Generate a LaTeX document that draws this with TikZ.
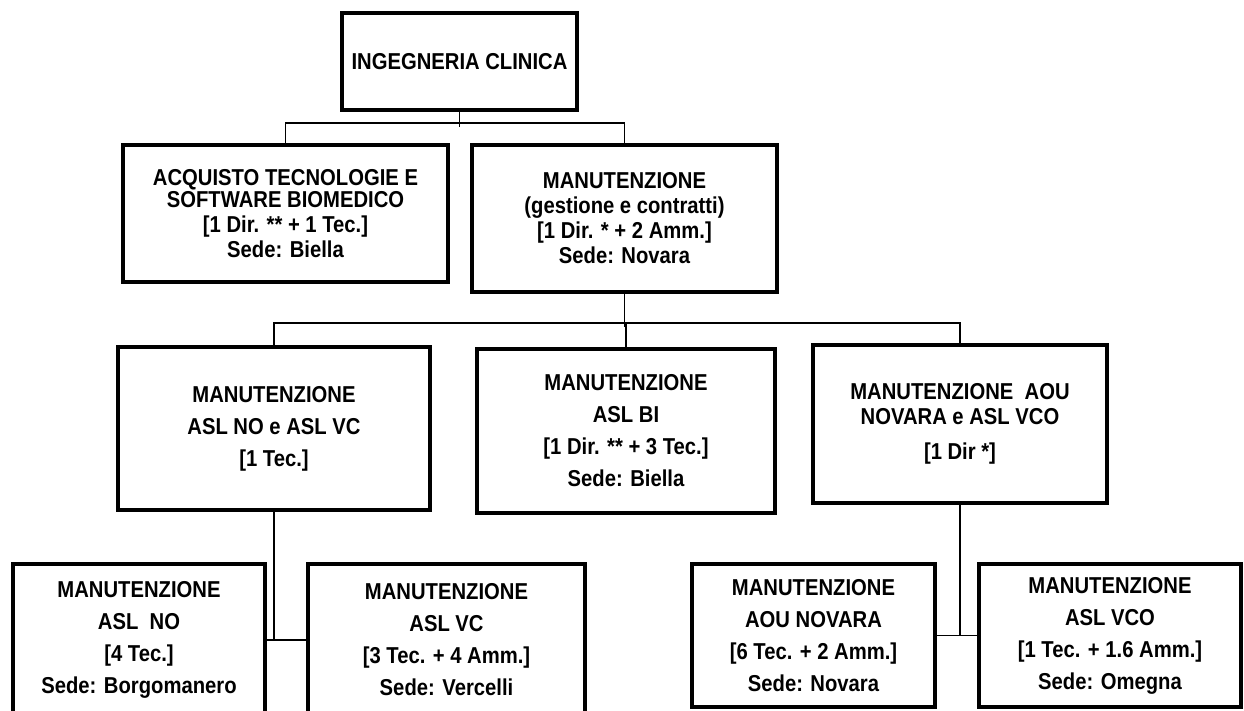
\documentclass[tikz,border=0pt]{standalone}
\usepackage{fontspec}
\newfontfamily\orgfont{Liberation Sans}[FakeStretch=0.88]

\begin{document}
\begin{tikzpicture}[
  x=1pt, y=-1pt,
  unit/.style={
    draw, line width=3.5pt, align=center, inner sep=0pt,
    font=\orgfont\bfseries\fontsize{23}{25}\selectfont
  },
  loose/.style={font=\orgfont\bfseries\fontsize{23}{32}\selectfont},
  link/.style={line width=1.8pt}
]
  \useasboundingbox[fill=white] (0,0) rectangle (1244,711);
  % top level
  \node[unit, minimum width=235pt, minimum height=97pt] (top) at (459.5,61.5)
    {INGEGNERIA CLINICA};
  % second level
  \node[unit, minimum width=325pt, minimum height=137pt] (acq) at (285.5,213.5)
    {ACQUISTO TECNOLOGIE E\\[-3pt] SOFTWARE BIOMEDICO\\ {[}1 Dir. ** + 1 Tec.{]}\\ Sede: Biella};
  \node[unit, minimum width=305pt, minimum height=147pt] (man) at (624.5,218.5)
    {MANUTENZIONE\\ (gestione e contratti)\\ {[}1 Dir. * + 2 Amm.{]}\\ Sede: Novara};
  % third level
  \node[unit, loose, minimum width=312pt, minimum height=163pt] (novc) at (274,428.5)
    {MANUTENZIONE\\ ASL NO e ASL VC\\ {[}1 Tec.{]}};
  \node[unit, loose, minimum width=298pt, minimum height=164pt] (bi) at (626,431)
    {MANUTENZIONE\\ ASL BI\\ {[}1 Dir. ** + 3 Tec.{]}\\ Sede: Biella};
  \node[unit, minimum width=294pt, minimum height=158pt] (aouvco) at (960,424)
    {MANUTENZIONE\ \ AOU\\ NOVARA e ASL VCO\\[10pt] {[}1 Dir *{]}};
  % fourth level
  \node[unit, loose, minimum width=252pt, minimum height=152pt] (no) at (139,640)
    {MANUTENZIONE\\ ASL\ \ NO\\ {[}4 Tec.{]}\\ Sede: Borgomanero};
  \node[unit, loose, minimum width=277pt, minimum height=152pt] (vc) at (446.5,640)
    {MANUTENZIONE\\ ASL VC\\ {[}3 Tec. + 4 Amm.{]}\\ Sede: Vercelli};
  \node[unit, loose, minimum width=243pt, minimum height=143pt] (aou) at (813.5,635.5)
    {MANUTENZIONE\\ AOU NOVARA\\ {[}6 Tec. + 2 Amm.{]}\\ Sede: Novara};
  \node[unit, loose, minimum width=262pt, minimum height=143pt] (vco) at (1110,635.5)
    {MANUTENZIONE\\ ASL VCO\\ {[}1 Tec. + 1.6 Amm.{]}\\ Sede: Omegna};
  % connectors
  \draw[link] (top.south) -- ++(0,15);
  \draw[link] (acq.north) -- ++(0,-20) -| (man.north);
  \draw[link] (man.south) -- ++(0,33);
  \draw[link] (novc.north) -- ++(0,-22) -| (aouvco.north);
  \draw[link] (bi.north) -- ++(0,-24);
  \draw[link] (novc.south) -- (novc.south |- no.east);
  \draw[link] (no.east) -- (vc.west);
  \draw[link] (aouvco.south) -- (aouvco.south |- aou.east);
  \draw[link] (aou.east) -- (vco.west);
\end{tikzpicture}
\end{document}
